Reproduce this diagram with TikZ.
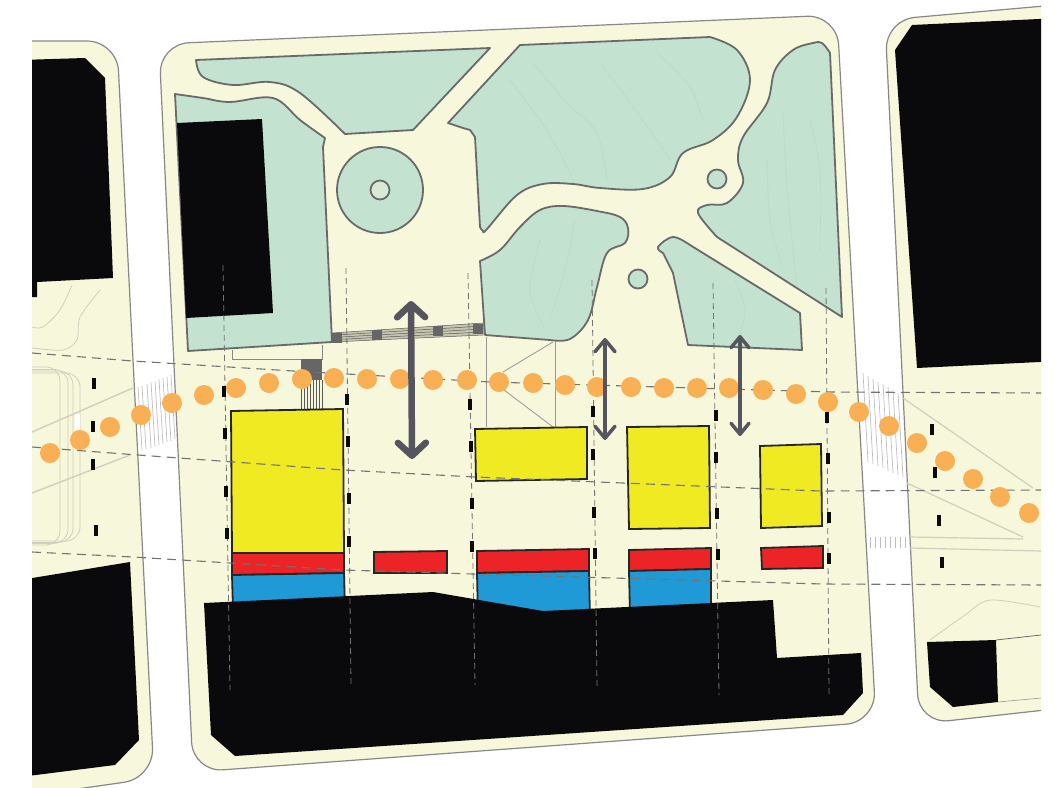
\documentclass[tikz,border=0pt]{standalone}
\usetikzlibrary{arrows.meta}
\definecolor{paper}{HTML}{F7F7DC}
\definecolor{lawn}{HTML}{C3E2D0}
\definecolor{contour}{HTML}{B9DCC9}
\definecolor{edge}{HTML}{6A6A6A}
\definecolor{ink}{HTML}{0A090C}
\definecolor{house}{HTML}{F0EA23}
\definecolor{shop}{HTML}{EC2327}
\definecolor{water}{HTML}{1F9AD6}
\definecolor{walk}{HTML}{F9B054}
\definecolor{flow}{HTML}{55555F}
\definecolor{faint}{HTML}{CFCFBE}
\begin{document}
\begin{tikzpicture}[
        x=1pt, y=-1pt,
        block/.style={draw=edge!80, fill=paper, line width=1.2pt, rounded corners=30pt},
        patch/.style={draw=edge, fill=lawn, line width=1.8pt, line join=round},
        solid/.style={fill=ink},
        unit/.style={draw=black!85, line width=1.8pt, line join=miter},
        gridline/.style={dash pattern=on 6pt off 4pt, draw=black!55, line width=.8pt},
        roadline/.style={dash pattern=on 9pt off 6pt, draw=black!55, line width=1.1pt},
        walkdot/.style={circle, fill=walk, minimum size=20pt, inner sep=0pt},
        post/.style={fill=ink, minimum width=4.5pt, minimum height=11pt, inner sep=0pt},
        thinline/.style={draw=faint, line width=.8pt},
        hatchline/.style={draw=black!25, line width=.7pt},
        steps/.style={draw=black!65, line width=.5pt},
        flowarr/.style={draw=flow, line join=round}
    ]
    \useasboundingbox (0,0) rectangle (1059,787);

    % blocks
    \begin{scope}
        \clip (32,0) rectangle (1041,787);
        \draw[block] (0,41) -- (117,41) -- (154,778) -- (0,800) -- cycle;
        \draw[block] (159,44) -- (837,15) -- (876,722) -- (193,772) -- cycle;
        \draw[block] (885,20) -- (1090,2) -- (1090,705) -- (919,724) -- cycle;

        % left block lines
        \foreach \cx in {60,68,73,80}
            \draw[thinline, rounded corners=14pt] (20,{367+(\cx-60)*.3}) -- (\cx,{367+(\cx-60)*.3}) -- (\cx,{545-(\cx-60)*.2}) -- (20,{545-(\cx-60)*.2});
        \draw[thinline, line width=1.4pt] (32,432) -- (133,388);
        \draw[thinline, line width=1.4pt] (32,493) -- (130,455);
        \draw[thinline] plot[smooth] coordinates {(72,285) (60,310) (43,327) (32,327)};
        \draw[thinline] plot[smooth] coordinates {(100,290) (80,317) (77,340) (63,350) (32,348)};
        \fill[white] (75,414) rectangle (80,430);

        % right block lines
        \draw[thinline, line width=1.2pt] (903,398) -- (1033,488);
        \draw[thinline, line width=1.2pt] (907,483) -- (1023,537);
        \draw[thinline, line width=1.2pt] (910,537) -- (1023,539);
        \draw[thinline, line width=1.2pt] (910,548) -- (1041,551);
        \draw[thinline] plot[smooth] coordinates {(930,640) (965,615) (990,600) (1040,607)};
        \draw[edge, line width=.8pt] (996,640) -- (1041,635);
        \draw[edge!70, line width=.6pt] (998,702) -- (1041,698);
    \end{scope}

    % lawns
    \draw[patch] (196,60) -- (490,48) -- (413,130) -- (345,134) -- plot[smooth, tension=.6] coordinates {(345,134) (300,93) (270,82) (233,85) (203,77) (196,60)} -- cycle;
    \draw[patch] (175,94) -- plot[smooth, tension=.6] coordinates {(175,94) (203,98) (230,102) (273,98) (300,120) (325,138)} -- (323,147) -- (332,342) -- (188,351) -- cycle;
    \draw[patch] (448,123) -- (520,45) -- (710,37) -- plot[smooth, tension=.6] coordinates {(710,37) (737,50) (750,80) (737,117) (713,140) (683,153) (670,177) (643,189) (600,188) (573,184) (543,184) (517,195) (487,229) (483,231) (480,227)} -- (475,137) -- (470,130) -- (463,128) -- cycle;
    \draw[patch] (480,261) -- plot[smooth, tension=.6] coordinates {(480,261) (500,250) (520,227) (540,210) (563,206) (597,211) (620,217) (628,228) (625,243) (607,253) (597,287) (588,320) (570,339) (550,340)} -- (485,335) -- cycle;
    \draw[patch] plot[smooth, tension=.6] coordinates {(830,53) (822,43) (813,43) (793,50) (775,70) (767,103) (743,137) (738,160) (743,183) (727,203) (707,205) (698,213) (717,237)} -- (842,317) -- cycle;
    \draw[patch] plot[smooth, tension=.6] coordinates {(663,253) (658,247) (673,237) (690,245)} -- (800,313) -- (802,350) -- (688,345) -- (673,273) -- cycle;
    \draw[patch] (380,190) circle[radius=43];
    \draw[patch, fill=lawn!60!paper] (380,190) circle[radius=9.5];
    \draw[patch] (717,179) circle[radius=9.5];
    \draw[patch] (638,279) circle[radius=9.5];

    % contours
    \foreach \wavy in {{(533,63) (567,103) (597,133) (607,180)}, {(600,63) (623,93) (650,130) (670,160)},
            {(657,53) (690,87) (703,120)}, {(510,80) (540,120) (560,153) (573,180)},
            {(783,113) (787,187) (797,287)}, {(810,120) (820,170) (820,253)}, {(767,160) (770,220) (783,270)},
            {(540,240) (530,290) (545,330)}, {(575,220) (565,270) (550,320)}, {(735,280) (745,310) (738,340)}}
        \draw[contour, line width=.6pt] plot[smooth] coordinates \wavy;

    % paving
    \draw[steps, fill=paper!80!black] (332,333) -- (483,323) -- (483,335) -- (332,342) -- cycle;
    \foreach \ry in {.25,.5,.75}
        \draw[steps] (332,{333+9*\ry}) -- (483,{323+12*\ry});
    \foreach \sx/\sy in {332/332.5, 372/330, 433/326, 473/323.5}
        \fill[black!60] (\sx,\sy) rectangle ++(10,10);
    \draw[edge!80, line width=.7pt] (232,350) -- (232,359) -- (322,359) -- (322,345);
    \fill[black!60] (301,359) rectangle (322,380);
    \foreach \sx in {301,304,...,322}
        \draw[steps] (\sx,380) -- (\sx,409);
    \draw[edge!70, line width=.8pt] (486,337) -- (486,427);
    \draw[edge!70, line width=.8pt] (555,342) -- (555,427);
    \draw[edge!70, line width=.8pt] (553,342) -- (503,372);
    \draw[edge!70, line width=.8pt] (500,387) -- (553,427);

    % crossings
    \foreach \hx/\hy/\hz in {138/387/450, 142/386/449, 147/384/448, 151/382/447, 155/381/445, 159/379/444, 163/378/442, 167/377/441, 171/375/439}
        \draw[hatchline] (\hx,\hy) -- ({\hx+4},\hz);
    \foreach \hx/\hy/\hz in {863/373/462, 868/376/464, 873/379/466, 878/382/468, 883/384/471, 888/387/473, 893/390/475, 898/393/477}
        \draw[hatchline] (\hx,\hy) -- ({\hx+5},\hz);
    \foreach \hx in {870,875,...,905}
        \draw[hatchline] (\hx,537) -- (\hx,548);

    % houses
    \draw[unit, fill=house] (231,411) -- (343,409) -- (344,553) -- (232,553) -- cycle;
    \draw[unit, fill=shop] (232,553) -- (344,553) -- (344,573) -- (232,575) -- cycle;
    \draw[unit, fill=water] (232,575) -- (344,573) -- (345,610) -- (233,610) -- cycle;
    \draw[unit, fill=shop] (374,552) -- (447,551) -- (447,573) -- (374,573) -- cycle;
    \draw[unit, fill=house] (475,429) -- (587,427) -- (587,479) -- (476,481) -- cycle;
    \draw[unit, fill=shop] (477,551) -- (589,549) -- (589,571) -- (477,573) -- cycle;
    \draw[unit, fill=water] (477,573) -- (589,571) -- (590,620) -- (478,620) -- cycle;
    \draw[unit, fill=house] (627,427) -- (709,426) -- (710,528) -- (629,529) -- cycle;
    \draw[unit, fill=shop] (629,550) -- (711,548) -- (711,569) -- (629,571) -- cycle;
    \draw[unit, fill=water] (629,571) -- (711,569) -- (711,615) -- (630,615) -- cycle;
    \draw[unit, fill=house] (760,446) -- (821,444) -- (822,526) -- (761,528) -- cycle;
    \draw[unit, fill=shop] (761,548) -- (823,546) -- (823,568) -- (762,569) -- cycle;

    % black parts
    \begin{scope}
        \clip (32,0) rectangle (1041,787);
        \fill[solid] (20,60) -- (85,58) -- (105,78) -- (113,278) -- (37,282) -- (37,297) -- (20,297) -- cycle;
        \fill[solid] (20,580) -- (130,562) -- (139,740) -- (115,765) -- (20,777) -- cycle;
        \fill[solid] (895,50) -- (912,25) -- (1060,18) -- (1060,361) -- (917,368) -- cycle;
        \fill[solid] (927,642) -- (996,640) -- (998,702) -- (953,707) -- (930,687) -- cycle;
    \end{scope}
    \fill[solid] (177,123) -- (262,119) -- (273,313) -- (186,318) -- cycle;
    \fill[solid] (204,603) -- (433,592) -- (543,611) -- (773,600) -- (777,658) -- (861,653) -- (863,693) -- (843,715) -- (235,756) -- (211,735) -- cycle;

    % grid
    \foreach \ax/\ay/\bx/\by in {223/265/230/690, 346/268/351/685, 468/273/475/685, 592/280/597/688, 713/283/719/695, 826/288/829/695}
        \draw[gridline] (\ax,\ay) -- (\bx,\by);
    \begin{scope}
        \clip (32,0) rectangle (1041,787);
        \draw[roadline] (32,353) -- (133,361) -- (293,371) -- (490,382) -- (830,392) -- (1041,393);
        \draw[roadline] (32,447) -- (138,455) -- (343,470) -- (475,477) -- (820,491) -- (1041,490);
        \draw[roadline] (32,552) -- (133,557) -- (343,570) -- (473,574) -- (823,584) -- (1041,585);
    \end{scope}
    \foreach \px/\py [count=\i] in {94/383, 93/426, 93/464, 96/530,
            224/391, 225/433, 226/491, 227/533, 347/399, 348/441, 349/498, 349/541,
            470/404, 471/446, 472/503, 472/546, 593/411, 593/454, 594/512, 595/553,
            716/415, 716/457, 717/513, 718/554, 827/417, 828/458, 829/517, 829/558,
            932/429, 935/472, 939/520, 942/562}
        \node[post] (post\i) at (\px,\py) {};

    % walk
    \foreach \wx/\wy [count=\i] in {50/453, 80/440, 110/427, 141/415, 172/403, 204/395, 236/388, 269/383,
            302/379, 334/378, 367/379, 400/379, 433/380, 467/380, 499/382, 533/383, 565/385, 597/387,
            631/387, 664/388, 697/388, 729/388, 763/390, 796/394, 828/402, 859/412, 889/426, 917/443,
            945/461, 973/479, 1000/497, 1029/513}
        \node[walkdot] (walk\i) at (\wx,\wy) {};

    % arrows
    \coordinate (gapatop) at (411,301);
    \coordinate (gapabot) at (412,459);
    \coordinate (gapbtop) at (605,338);
    \coordinate (gapbbot) at (605,440);
    \coordinate (gapctop) at (740,335);
    \coordinate (gapcbot) at (740,436);
    \draw[flowarr, line width=6.5pt, {Straight Barb[length=13pt, width=28pt, round]}-{Straight Barb[length=13pt, width=28pt, round]}] (gapatop) -- (gapabot);
    \draw[flowarr, line width=3.5pt, {Straight Barb[length=12pt, width=20pt, round]}-{Straight Barb[length=12pt, width=20pt, round]}] (gapbtop) -- (gapbbot);
    \draw[flowarr, line width=3.5pt, {Straight Barb[length=11pt, width=18pt, round]}-{Straight Barb[length=11pt, width=18pt, round]}] (gapctop) -- (gapcbot);
\end{tikzpicture}
\end{document}
